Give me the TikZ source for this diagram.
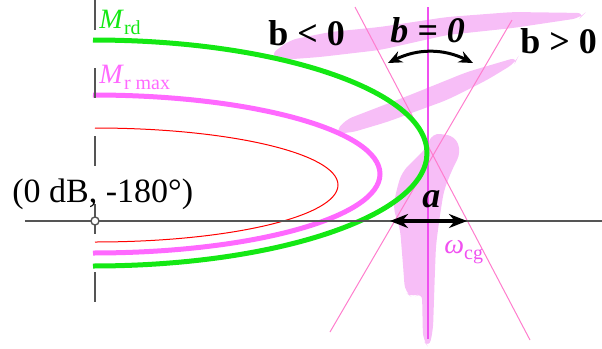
\documentclass[tikz,border=0pt]{standalone}
\usepackage{fontspec}
\setmainfont{Liberation Serif}
\usetikzlibrary{arrows.meta, positioning}
\definecolor{mgreen}{RGB}{20,232,20}
\definecolor{mmag}{RGB}{255,105,255}
\definecolor{vmag}{RGB}{240,80,240}
\definecolor{tpink}{RGB}{255,125,205}
\definecolor{hpink}{RGB}{247,190,247}
\definecolor{axgray}{RGB}{85,85,85}
\newcommand{\lowsub}[1]{\raisebox{-0.22em}{\fontsize{10}{12}\selectfont\upshape #1}}

\begin{document}
\begin{tikzpicture}[x=0.5pt, y=-0.5pt,
    hatch/.style={fill=hpink, rounded corners=4pt},
    big/.style={font=\fontsize{18}{20}\selectfont\bfseries, inner sep=0, anchor=base west},
    lbl/.style={font=\fontsize{14}{16}\selectfont, inner sep=0, anchor=base west},
    axis/.style={draw=axgray, line width=0.8pt},
    arr/.style={{Stealth[length=9pt,width=7pt]}-{Stealth[length=9pt,width=7pt]}, line width=2pt},
    barr/.style={{Stealth[length=7pt,width=6pt]}-{Stealth[length=7pt,width=6pt]}, line width=1.5pt},
]
\useasboundingbox (0,0) rectangle (602,349);

\fill[hatch] (270,55) -- (290,40) -- (330,32) -- (380,27) -- (447,17) -- (513,12) -- (585,13)
  -- (580,18) -- (513,28) -- (447,35) -- (380,50) -- (320,57) -- (280,60) -- cycle;
\fill[hatch] (335,133) -- (345,120) -- (410,95) -- (467,72) -- (518,57) -- (515,63)
  -- (487,80) -- (447,100) -- (387,122) -- (350,133) -- cycle;
\fill[hatch] (432,133) -- (455,136) -- (461,152) -- (452,170) -- (444,190) -- (440,215)
  -- (436,245) -- (435,270) -- (433,330) -- (429,348) -- (423,340) -- (422,292) -- (413,298)
  -- (405,292) -- (403,265) -- (400,228) -- (393,208) -- (397,188) -- (402,172) -- (418,156)
  -- (428,146) -- cycle;

\coordinate (la1) at (355,7);
\coordinate (la2) at (530,340);
\coordinate (lb1) at (512,20);
\coordinate (lb2) at (330,332);
\coordinate (vtop) at (428,7);
\coordinate (vbot) at (428,339);
\draw[tpink, line width=0.5pt] (la1) -- (la2);
\draw[tpink, line width=0.5pt] (lb1) -- (lb2);
\draw[vmag, line width=1.1pt] (vtop) -- (vbot);

\draw[red, line width=0.5pt] (95,128) arc[start angle=90, end angle=-90, x radius=121.5pt, y radius=28.5pt];
\draw[mmag, line width=2.5pt] (93,95) arc[start angle=90, end angle=-90, x radius=143.5pt, y radius=39.5pt];
\draw[mgreen, line width=2.5pt] (93,40) arc[start angle=90, end angle=-90, x radius=167pt, y radius=56.5pt];

\coordinate (ax0) at (25,221);
\coordinate (ax1) at (602,221);
\coordinate (tk0) at (95,0);
\coordinate (tk1) at (95,302);
\draw[axis] (ax0) -- (ax1);
\draw[axis, dash pattern=on 15pt off 19pt] (tk0) -- (tk1);
\node[circle, draw=axgray, fill=white, line width=0.7pt, inner sep=0, minimum size=4pt] (orig) at (95,221) {};

\coordinate (aL) at (390,221);
\coordinate (aR) at (467,221);
\coordinate (cL) at (388,63);
\coordinate (cR) at (473,63);
\draw[arr] (aL) -- (aR);
\draw[barr] (cL) to[bend left=26] (cR);

\node[font=\fontsize{17}{19}\selectfont, inner sep=0, anchor=base west] (origlbl) at (12,202) {(0 dB, -180°)};
\node[lbl, text=mgreen] (mrd) at (99,28) {\textit{M}\lowsub{rd}};
\node[lbl, text=mmag] (mrmax) at (99,83) {\textit{M}\lowsub{r max}};
\node[lbl, text=vmag] (wcg) at (444,253) {\textit{ω}\lowsub{cg}};
\node[big] (bneg) at (268,45) {b < 0};
\node[big] (bzero) at (390,42) {\itshape b = 0};
\node[big] (bpos) at (520,53) {b > 0};
\node[big] (alen) at (422,207) {\itshape a};
\end{tikzpicture}
\end{document}
